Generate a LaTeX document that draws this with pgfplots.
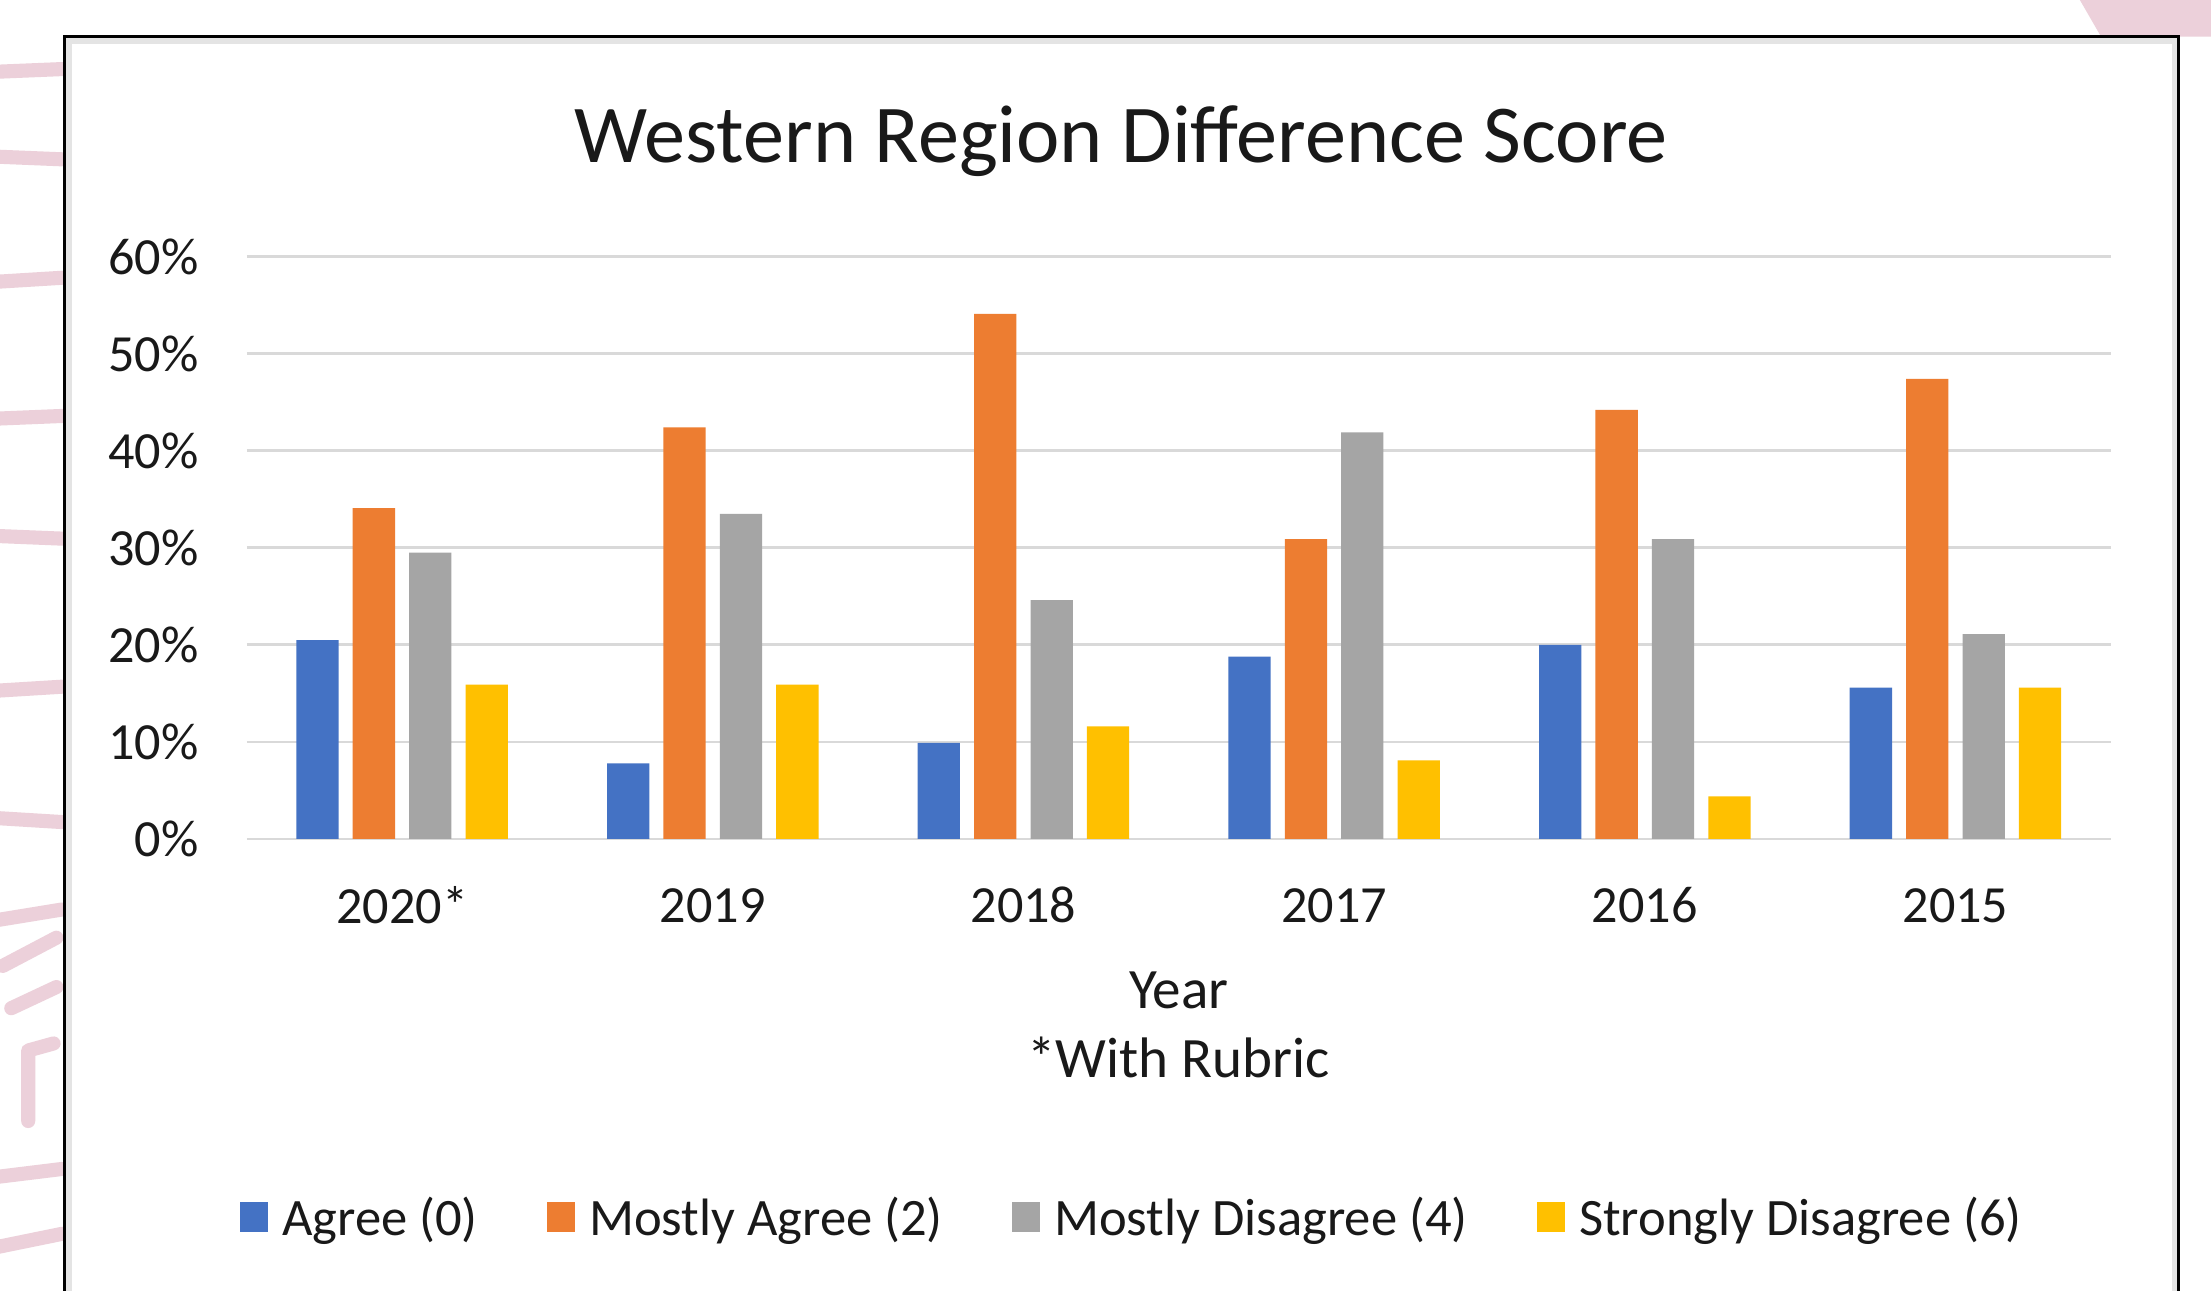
\documentclass[border=0pt]{standalone}
\usepackage{fontspec}
\setmainfont{Carlito}
\usepackage{pgfplots}
\pgfplotsset{compat=1.18}
\definecolor{cBlue}{HTML}{4472C4}
\definecolor{cOrange}{HTML}{ED7D31}
\definecolor{cGray}{HTML}{A5A5A5}
\definecolor{cYellow}{HTML}{FFC000}
\definecolor{cGrid}{HTML}{D9D9D9}
\definecolor{cPink}{HTML}{ECD0DA}
\newcommand{\lbl}{\fontsize{37}{44}\selectfont}
\pgfplotsset{sqlegend/.style={legend image code/.code={\fill[##1] (0pt,-11pt) rectangle (20pt,10.5pt);}}}
\begin{document}
\begin{tikzpicture}[x=1pt,y=1pt]
\useasboundingbox (0,0) rectangle (1568,915);
\begin{scope}
\clip (0,0) rectangle (1568,915);
\fill[white] (0,0) rectangle (1568,915);
% faint background decoration outside the chart frame
\begin{scope}[cPink, line width=10pt, line cap=round, line join=round]
\draw (-5,864) -- (44,866);
\draw (-5,804) -- (44,802);
\draw (-5,715) -- (44,718);
\draw (-5,618) -- (44,620);
\draw (-5,535) -- (44,533);
\draw (-5,425) -- (44,428);
\draw (-5,335) -- (44,332);
\draw (-5,262) -- (44,270);
\draw (2,230) -- (40,250);
\draw (8,200) -- (40,215);
\draw (20,120) -- (20,170) -- (38,175);
\draw (-5,80) -- (44,86);
\draw (-5,30) -- (44,40);
\end{scope}
\fill[cPink] (1475,915) -- (1568,915) -- (1568,889) -- (1490,889) -- cycle;
\draw[cGrid!70, line width=4pt] (49,-5) -- (49,886) -- (1542,886) -- (1542,-5);
\draw[black, line width=2pt] (46,-5) -- (46,889) -- (1545,889) -- (1545,-5);
\end{scope}
\begin{axis}[
  at={(175pt,320pt)}, anchor=south west,
  scale only axis, width=1322pt, height=413pt,
  xmin=-0.5, xmax=5.5, ymin=0, ymax=60,
  axis line style={draw=none},
  major tick length=0pt, tick style={draw=none},
  ytick={0,10,20,30,40,50,60},
  yticklabels={0\%,10\%,20\%,30\%,40\%,50\%,60\%},
  xtick={0,1,2,3,4,5},
  xticklabels={2020*,2019,2018,2017,2016,2015},
  ymajorgrids, grid style={cGrid, line width=2pt},
  ticklabel style={font=\lbl, inner sep=0pt, text=black!90},
  yticklabel style={anchor=east, xshift=-34pt},
  xticklabel style={anchor=center, yshift=-47pt},
  xlabel={Year\\*With Rubric},
  xlabel style={font=\fontsize{40.5}{49}\selectfont, align=center, text=black!90,
    at={(axis description cs:0.5,0)}, anchor=center, yshift=-132pt},
  legend columns=4,
  legend style={draw=none, fill=none, font=\fontsize{37.3}{44}\selectfont, text=black!90,
    at={(0.475,-0.649)}, anchor=center,
    /tikz/every odd column/.append style={column sep=8pt},
    /tikz/every even column/.append style={column sep=47pt}},
]
\addplot[ybar, bar width=30pt, bar shift=-60pt, fill=cBlue, draw=none, sqlegend]
  coordinates {(0,20.5) (1,7.8) (2,9.9) (3,18.8) (4,20.0) (5,15.6)};
\addplot[ybar, bar width=30pt, bar shift=-20pt, fill=cOrange, draw=none, sqlegend]
  coordinates {(0,34.1) (1,42.4) (2,54.1) (3,30.9) (4,44.2) (5,47.4)};
\addplot[ybar, bar width=30pt, bar shift=20pt, fill=cGray, draw=none, sqlegend]
  coordinates {(0,29.5) (1,33.5) (2,24.6) (3,41.9) (4,30.9) (5,21.1)};
\addplot[ybar, bar width=30pt, bar shift=60pt, fill=cYellow, draw=none, sqlegend]
  coordinates {(0,15.9) (1,15.9) (2,11.6) (3,8.1) (4,4.4) (5,15.6)};
\legend{Agree (0),Mostly Agree (2),Mostly Disagree (4),Strongly Disagree (6)}
\end{axis}
\node[font=\fontsize{58.3}{68}\selectfont, text=black!90] at (795,815) {Western Region Difference Score};
\end{tikzpicture}
\end{document}
